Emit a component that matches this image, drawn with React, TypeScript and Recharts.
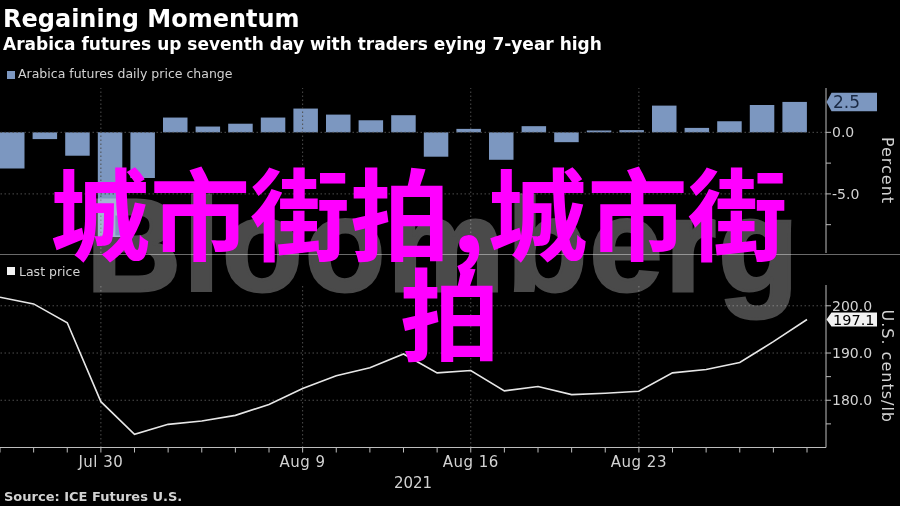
import React from 'react';
import { ComposedChart, LineChart, Bar, Line, XAxis, YAxis, ReferenceLine } from 'recharts';

// trading days shown on the chart
const dates = [
  'Jul 27', 'Jul 28', 'Jul 29', 'Jul 30', 'Aug 2', 'Aug 3', 'Aug 4', 'Aug 5', 'Aug 6',
  'Aug 9', 'Aug 10', 'Aug 11', 'Aug 12', 'Aug 13', 'Aug 16', 'Aug 17', 'Aug 18', 'Aug 19',
  'Aug 20', 'Aug 23', 'Aug 24', 'Aug 25', 'Aug 26', 'Aug 27', 'Aug 30',
];

// Arabica futures daily price change, percent
const dailyChange = [
  -2.93, -0.55, -1.9, -8.5, -3.7, 1.2, 0.47, 0.7, 1.2, 1.93, 1.44, 0.98, 1.39,
  -1.98, 0.28, -2.23, 0.5, -0.8, 0.15, 0.18, 2.17, 0.36, 0.9, 2.22, 2.47,
];

// last price, U.S. cents/lb
const lastPrice = [
  201.8, 200.4, 196.4, 179.7, 172.8, 174.9, 175.6, 176.8, 179.1, 182.5, 185.2, 186.9, 189.8,
  185.8, 186.3, 182.0, 182.9, 181.2, 181.5, 181.9, 185.8, 186.5, 188.0, 192.4, 197.1,
];

const xTickLabels = ['Jul 30', 'Aug 9', 'Aug 16', 'Aug 23'];
const changeTicks = [-7.5, -5, -2.5, 0];
const changeLabels = [-5, 0];
const priceTicks = [175, 180, 185, 190, 200];
const priceLabels = [180, 190, 200];

const FONT = "'DejaVu Sans', sans-serif";
const CJK = "'Noto Sans CJK SC', sans-serif";
const BAR_COLOR = '#7c97c0';
const AXIS_COLOR = '#bdbdbd';
const TEXT_COLOR = '#d2d2d2';
const GRID = { stroke: '#4d4d4d', strokeDasharray: '1.5 2.5' };

const rows = dates.map((date, i) => ({ date, change: dailyChange[i], price: lastPrice[i] }));
const latestChange = dailyChange[dailyChange.length - 1];
const latestPrice = lastPrice[lastPrice.length - 1];

// current value marker on the right axis
const ValueTag = ({ x, y, h, fill, color, size, text }: any) => (
  <g>
    <polygon
      points={`${x + 0.5},${y} ${x + 5.5},${y - h / 2} ${x + 51},${y - h / 2} ${x + 51},${y + h / 2} ${x + 5.5},${y + h / 2}`}
      fill={fill}
    />
    <text x={x + 7} y={y} dy="0.36em" fill={color} fontSize={size} fontFamily={FONT}>
      {text}
    </text>
  </g>
);

const RightTick = ({ x, y, payload, labels, latest, tag }: any) => {
  const v = payload.value;
  if (v === latest) return <ValueTag x={x} y={y} {...tag} text={v.toFixed(1)} />;
  return (
    <g>
      <line x1={x} x2={x + 5} y1={y} y2={y} stroke={AXIS_COLOR} />
      {labels.includes(v) && (
        <text x={x + 6} y={y} dy="0.36em" fill={TEXT_COLOR} fontSize={14} fontFamily={FONT}>
          {v.toFixed(1)}
        </text>
      )}
    </g>
  );
};

const SideTitle = ({ viewBox, text }: any) => {
  const cx = viewBox.x + 61;
  const cy = viewBox.y + viewBox.height / 2;
  return (
    <text
      x={cx}
      y={cy}
      transform={`rotate(90 ${cx} ${cy})`}
      textAnchor="middle"
      dominantBaseline="central"
      fill={TEXT_COLOR}
      fontSize={16}
      letterSpacing={1}
      fontFamily={FONT}
    >
      {text}
    </text>
  );
};

const DateTick = ({ x, y, payload }: any) =>
  xTickLabels.includes(payload.value) ? (
    <text x={x} y={y} dy={14.5} textAnchor="middle" fill={TEXT_COLOR} fontSize={15} letterSpacing={0.5} fontFamily={FONT}>
      {payload.value}
    </text>
  ) : (
    <g />
  );

const abs = (style: React.CSSProperties): React.CSSProperties => ({
  position: 'absolute',
  whiteSpace: 'nowrap',
  lineHeight: 1,
  ...style,
});

export default function App() {
  return (
    <div
      style={{
        position: 'fixed',
        left: 0,
        top: 0,
        width: 900,
        height: 506,
        background: '#000',
        overflow: 'hidden',
        fontFamily: FONT,
      }}
    >
      <div style={abs({ left: 3, top: 6.7, fontSize: 24, fontWeight: 700, color: '#fff' })}>Regaining Momentum</div>
      <div style={abs({ left: 3, top: 35.6, fontSize: 17, fontWeight: 700, color: '#fff' })}>
        Arabica futures up seventh day with traders eying 7-year high
      </div>

      <div style={abs({ left: 7, top: 71, width: 8, height: 8, background: BAR_COLOR })} />
      <div style={abs({ left: 18, top: 68.4, fontSize: 12.5, color: TEXT_COLOR })}>Arabica futures daily price change</div>

      <div style={abs({ left: 0, top: 0 })}>
        <ComposedChart width={900} height={260} data={rows} margin={{ top: 88, right: 0, bottom: 7, left: -4 }}>
          <XAxis dataKey="date" hide padding={{ left: 0, right: 15 }} />
          <XAxis xAxisId="pt" dataKey="date" hide scale="point" padding={{ left: 4, right: 19 }} />
          <YAxis
            orientation="right"
            width={74}
            domain={[-9.8, 3.6]}
            allowDataOverflow
            ticks={[...changeTicks, latestChange]}
            interval={0}
            tickSize={0}
            tickMargin={0}
            tickLine={false}
            axisLine={{ stroke: AXIS_COLOR }}
            tick={(p: any) => (
              <RightTick
                {...p}
                labels={changeLabels}
                latest={latestChange}
                tag={{ h: 18.5, fill: BAR_COLOR, color: '#1b2a44', size: 17 }}
              />
            )}
            label={<SideTitle text="Percent" />}
          />
          {changeLabels.map((v) => (
            <ReferenceLine key={v} y={v} {...GRID} />
          ))}
          {xTickLabels.map((d) => (
            <ReferenceLine key={d} xAxisId="pt" x={d} {...GRID} />
          ))}
          <Bar dataKey="change" fill={BAR_COLOR} barSize={24.5} isAnimationActive={false} />
        </ComposedChart>
      </div>

      <div style={abs({ left: 0, top: 253.5, width: 900, height: 1.5, background: '#6a6a6a' })} />

      <div style={abs({ left: 7, top: 267, width: 8, height: 8, background: '#f2f2f2' })} />
      <div style={abs({ left: 19, top: 266.4, fontSize: 12.5, color: TEXT_COLOR })}>Last price</div>

      <div style={abs({ left: 0, top: 0 })}>
        <LineChart width={900} height={506} data={rows} margin={{ top: 285, right: 0, bottom: 18.5, left: 0 }}>
          <XAxis
            dataKey="date"
            scale="point"
            padding={{ left: 0, right: 19 }}
            interval={0}
            height={40}
            tickSize={5}
            tickMargin={0}
            axisLine={{ stroke: AXIS_COLOR }}
            tickLine={{ stroke: AXIS_COLOR }}
            tick={(p: any) => <DateTick {...p} />}
            label={{ value: '2021', position: 'insideBottom', offset: 0, fill: TEXT_COLOR, fontSize: 15, fontFamily: FONT }}
          />
          <YAxis
            orientation="right"
            width={74}
            domain={[170, 204.4]}
            allowDataOverflow
            ticks={[...priceTicks, latestPrice]}
            interval={0}
            tickSize={0}
            tickMargin={0}
            tickLine={false}
            axisLine={{ stroke: AXIS_COLOR }}
            tick={(p: any) => (
              <RightTick
                {...p}
                labels={priceLabels}
                latest={latestPrice}
                tag={{ h: 14, fill: '#f2f2f2', color: '#000', size: 14.5 }}
              />
            )}
            label={<SideTitle text="U.S. cents/lb" />}
          />
          {priceLabels.map((v) => (
            <ReferenceLine key={v} y={v} {...GRID} />
          ))}
          {xTickLabels.map((d) => (
            <ReferenceLine key={d} x={d} {...GRID} />
          ))}
          <Line dataKey="price" stroke="#e6e6e6" strokeWidth={1.6} dot={false} isAnimationActive={false} />
        </LineChart>
      </div>

      <div style={abs({ left: 4, top: 490, fontSize: 13, fontWeight: 700, color: TEXT_COLOR })}>Source: ICE Futures U.S.</div>

      {/* watermark, lightens whatever is under it */}
      <div
        style={abs({
          left: 86,
          top: 180,
          fontSize: 132,
          fontWeight: 700,
          letterSpacing: 2,
          fontFamily: "'Liberation Sans', Arial, sans-serif",
          color: '#4a4a4a',
          WebkitTextStroke: '3px #4a4a4a',
          mixBlendMode: 'screen',
        })}
      >
        Bloomberg
      </div>

      {/* overlay text */}
      <div style={abs({ left: 50, top: 160, fontSize: 100, lineHeight: '100px', color: '#ff00ff', fontWeight: 700, fontFamily: CJK })}>
        城市街拍<span style={{ margin: '0 3px 0 2px' }}>,</span>城市街
      </div>
      <div style={abs({ left: 400, top: 260, fontSize: 100, lineHeight: '100px', color: '#ff00ff', fontWeight: 700, fontFamily: CJK })}>
        拍
      </div>
    </div>
  );
}
